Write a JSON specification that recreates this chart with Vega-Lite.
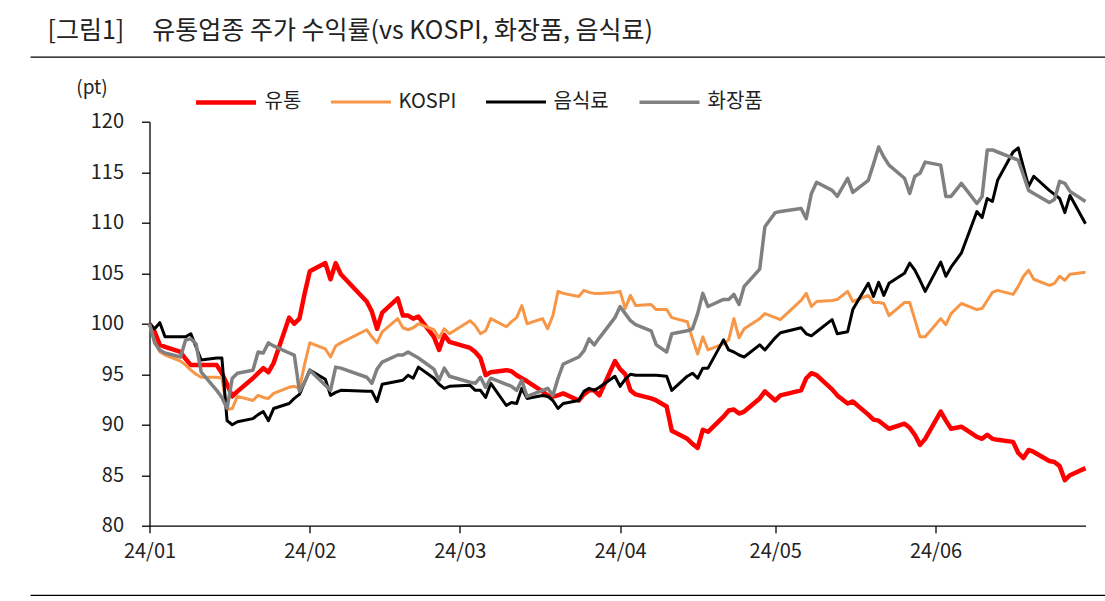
{
"$schema": "https://vega.github.io/schema/vega-lite/v6.json",
"autosize": {"type": "none"},
"width": 936, "height": 404,
"padding": {"left": 149.5, "top": 121.7, "right": 19.5, "bottom": 75.3},
"background": "white",
"title": {"text": "[그림1]\u00a0\u00a0\u00a0\u00a0\u00a0유통업종 주가 수익률(vs KOSPI, 화장품, 음식료)", "anchor": "start", "frame": "group", "fontSize": 25, "font": "Noto Sans CJK KR", "fontWeight": "normal", "color": "#222222", "dx": -102, "offset": 12},
"config": {"view": {"stroke": null}, "font": "Noto Sans CJK KR"},
"layer": [
{"data": {"values": [{}]}, "mark": {"type": "rule", "clip": false, "color": "#000000", "strokeWidth": 1.3},
 "encoding": {"y": {"datum": 126.4, "type": "quantitative"}, "x": {"datum": {"year": 2023, "month": 12, "date": 10, "utc": true}, "type": "temporal"}, "x2": {"datum": {"year": 2024, "month": 7, "date": 6, "utc": true}}}},
{"data": {"values": [{}]}, "mark": {"type": "rule", "clip": false, "color": "#000000", "strokeWidth": 1.3},
 "encoding": {"y": {"datum": 73.1, "type": "quantitative"}, "x": {"datum": {"year": 2023, "month": 12, "date": 10, "utc": true}, "type": "temporal"}, "x2": {"datum": {"year": 2024, "month": 7, "date": 6, "utc": true}}}},
{"data": {"values": [
{"d":"2024-01-02","s":"유통","v":100},{"d":"2024-01-03","s":"유통","v":99.2},{"d":"2024-01-04","s":"유통","v":97.9},{"d":"2024-01-05","s":"유통","v":97.7},{"d":"2024-01-08","s":"유통","v":97.2},{"d":"2024-01-09","s":"유통","v":96.5},{"d":"2024-01-10","s":"유통","v":95.9},{"d":"2024-01-11","s":"유통","v":95.9},{"d":"2024-01-12","s":"유통","v":95.9},{"d":"2024-01-15","s":"유통","v":95.9},{"d":"2024-01-16","s":"유통","v":95.1},{"d":"2024-01-17","s":"유통","v":94.0},{"d":"2024-01-18","s":"유통","v":92.8},{"d":"2024-01-19","s":"유통","v":93.3},{"d":"2024-01-22","s":"유통","v":94.6},{"d":"2024-01-23","s":"유통","v":95.1},{"d":"2024-01-24","s":"유통","v":95.6},{"d":"2024-01-25","s":"유통","v":95.2},{"d":"2024-01-26","s":"유통","v":96.1},{"d":"2024-01-29","s":"유통","v":100.6},{"d":"2024-01-30","s":"유통","v":100.0},{"d":"2024-01-31","s":"유통","v":100.5},
{"d":"2024-02-01","s":"유통","v":103.0},{"d":"2024-02-02","s":"유통","v":105.2},{"d":"2024-02-05","s":"유통","v":106.0},{"d":"2024-02-06","s":"유통","v":104.4},{"d":"2024-02-07","s":"유통","v":106.0},{"d":"2024-02-08","s":"유통","v":104.9},{"d":"2024-02-13","s":"유통","v":102.2},{"d":"2024-02-14","s":"유통","v":101.2},{"d":"2024-02-15","s":"유통","v":99.5},{"d":"2024-02-16","s":"유통","v":101.1},{"d":"2024-02-19","s":"유통","v":102.5},{"d":"2024-02-20","s":"유통","v":100.8},{"d":"2024-02-21","s":"유통","v":100.8},{"d":"2024-02-22","s":"유통","v":100.5},{"d":"2024-02-23","s":"유통","v":100.7},{"d":"2024-02-26","s":"유통","v":98.7},{"d":"2024-02-27","s":"유통","v":97.4},{"d":"2024-02-28","s":"유통","v":98.9},{"d":"2024-02-29","s":"유통","v":98.2},
{"d":"2024-03-04","s":"유통","v":97.6},{"d":"2024-03-05","s":"유통","v":97.2},{"d":"2024-03-06","s":"유통","v":96.6},{"d":"2024-03-07","s":"유통","v":94.9},{"d":"2024-03-08","s":"유통","v":95.2},{"d":"2024-03-11","s":"유통","v":95.4},{"d":"2024-03-12","s":"유통","v":95.3},{"d":"2024-03-13","s":"유통","v":94.9},{"d":"2024-03-14","s":"유통","v":94.6},{"d":"2024-03-15","s":"유통","v":94.3},{"d":"2024-03-18","s":"유통","v":93.3},{"d":"2024-03-19","s":"유통","v":92.9},{"d":"2024-03-20","s":"유통","v":92.8},{"d":"2024-03-21","s":"유통","v":92.9},{"d":"2024-03-22","s":"유통","v":93.1},{"d":"2024-03-25","s":"유통","v":92.4},{"d":"2024-03-26","s":"유통","v":93.0},{"d":"2024-03-27","s":"유통","v":93.4},{"d":"2024-03-28","s":"유통","v":93.4},{"d":"2024-03-29","s":"유통","v":92.9},
{"d":"2024-04-01","s":"유통","v":96.3},{"d":"2024-04-02","s":"유통","v":95.5},{"d":"2024-04-03","s":"유통","v":95.0},{"d":"2024-04-04","s":"유통","v":93.4},{"d":"2024-04-05","s":"유통","v":93.0},{"d":"2024-04-08","s":"유통","v":92.6},{"d":"2024-04-09","s":"유통","v":92.4},{"d":"2024-04-11","s":"유통","v":91.8},{"d":"2024-04-12","s":"유통","v":89.4},{"d":"2024-04-15","s":"유통","v":88.6},{"d":"2024-04-16","s":"유통","v":88.1},{"d":"2024-04-17","s":"유통","v":87.7},{"d":"2024-04-18","s":"유통","v":89.5},{"d":"2024-04-19","s":"유통","v":89.3},{"d":"2024-04-22","s":"유통","v":90.8},{"d":"2024-04-23","s":"유통","v":91.4},{"d":"2024-04-24","s":"유통","v":91.5},{"d":"2024-04-25","s":"유통","v":91.1},{"d":"2024-04-26","s":"유통","v":91.3},{"d":"2024-04-29","s":"유통","v":92.6},{"d":"2024-04-30","s":"유통","v":93.3},
{"d":"2024-05-02","s":"유통","v":92.4},{"d":"2024-05-03","s":"유통","v":92.9},{"d":"2024-05-07","s":"유통","v":93.4},{"d":"2024-05-08","s":"유통","v":94.6},{"d":"2024-05-09","s":"유통","v":95.1},{"d":"2024-05-10","s":"유통","v":94.9},{"d":"2024-05-13","s":"유통","v":93.5},{"d":"2024-05-14","s":"유통","v":92.9},{"d":"2024-05-16","s":"유통","v":92.1},{"d":"2024-05-17","s":"유통","v":92.3},{"d":"2024-05-20","s":"유통","v":91.0},{"d":"2024-05-21","s":"유통","v":90.5},{"d":"2024-05-22","s":"유통","v":90.4},{"d":"2024-05-23","s":"유통","v":90.0},{"d":"2024-05-24","s":"유통","v":89.6},{"d":"2024-05-27","s":"유통","v":90.1},{"d":"2024-05-28","s":"유통","v":89.7},{"d":"2024-05-29","s":"유통","v":89.0},{"d":"2024-05-30","s":"유통","v":88.0},{"d":"2024-05-31","s":"유통","v":88.6},
{"d":"2024-06-03","s":"유통","v":91.3},{"d":"2024-06-04","s":"유통","v":90.4},{"d":"2024-06-05","s":"유통","v":89.6},{"d":"2024-06-07","s":"유통","v":89.8},{"d":"2024-06-10","s":"유통","v":88.8},{"d":"2024-06-11","s":"유통","v":88.6},{"d":"2024-06-12","s":"유통","v":89.0},{"d":"2024-06-13","s":"유통","v":88.6},{"d":"2024-06-14","s":"유통","v":88.5},{"d":"2024-06-17","s":"유통","v":88.3},{"d":"2024-06-18","s":"유통","v":87.2},{"d":"2024-06-19","s":"유통","v":86.7},{"d":"2024-06-20","s":"유통","v":87.5},{"d":"2024-06-21","s":"유통","v":87.3},{"d":"2024-06-24","s":"유통","v":86.4},{"d":"2024-06-25","s":"유통","v":86.3},{"d":"2024-06-26","s":"유통","v":85.9},{"d":"2024-06-27","s":"유통","v":84.5},{"d":"2024-06-28","s":"유통","v":85.0},{"d":"2024-07-01","s":"유통","v":85.7},

{"d":"2024-01-02","s":"KOSPI","v":100},{"d":"2024-01-03","s":"KOSPI","v":98.2},{"d":"2024-01-04","s":"KOSPI","v":97.2},{"d":"2024-01-05","s":"KOSPI","v":96.9},{"d":"2024-01-08","s":"KOSPI","v":96.3},{"d":"2024-01-09","s":"KOSPI","v":95.9},{"d":"2024-01-10","s":"KOSPI","v":95.4},{"d":"2024-01-11","s":"KOSPI","v":95.0},{"d":"2024-01-12","s":"KOSPI","v":94.7},{"d":"2024-01-15","s":"KOSPI","v":94.7},{"d":"2024-01-16","s":"KOSPI","v":94.6},{"d":"2024-01-17","s":"KOSPI","v":91.5},{"d":"2024-01-18","s":"KOSPI","v":91.6},{"d":"2024-01-19","s":"KOSPI","v":92.8},{"d":"2024-01-22","s":"KOSPI","v":92.4},{"d":"2024-01-23","s":"KOSPI","v":92.9},{"d":"2024-01-24","s":"KOSPI","v":92.7},{"d":"2024-01-25","s":"KOSPI","v":92.6},{"d":"2024-01-26","s":"KOSPI","v":93.1},{"d":"2024-01-29","s":"KOSPI","v":93.7},{"d":"2024-01-30","s":"KOSPI","v":93.8},{"d":"2024-01-31","s":"KOSPI","v":93.6},
{"d":"2024-02-01","s":"KOSPI","v":96.0},{"d":"2024-02-02","s":"KOSPI","v":98.1},{"d":"2024-02-05","s":"KOSPI","v":97.5},{"d":"2024-02-06","s":"KOSPI","v":96.7},{"d":"2024-02-07","s":"KOSPI","v":97.8},{"d":"2024-02-08","s":"KOSPI","v":98.1},{"d":"2024-02-13","s":"KOSPI","v":99.4},{"d":"2024-02-14","s":"KOSPI","v":98.7},{"d":"2024-02-15","s":"KOSPI","v":98.1},{"d":"2024-02-16","s":"KOSPI","v":99.2},{"d":"2024-02-19","s":"KOSPI","v":100.5},{"d":"2024-02-20","s":"KOSPI","v":99.6},{"d":"2024-02-21","s":"KOSPI","v":99.4},{"d":"2024-02-22","s":"KOSPI","v":99.6},{"d":"2024-02-23","s":"KOSPI","v":100.0},{"d":"2024-02-26","s":"KOSPI","v":99.4},{"d":"2024-02-27","s":"KOSPI","v":98.6},{"d":"2024-02-28","s":"KOSPI","v":99.5},{"d":"2024-02-29","s":"KOSPI","v":99.0},
{"d":"2024-03-04","s":"KOSPI","v":100.3},{"d":"2024-03-05","s":"KOSPI","v":99.8},{"d":"2024-03-06","s":"KOSPI","v":99.0},{"d":"2024-03-07","s":"KOSPI","v":99.3},{"d":"2024-03-08","s":"KOSPI","v":100.5},{"d":"2024-03-11","s":"KOSPI","v":99.7},{"d":"2024-03-12","s":"KOSPI","v":100.2},{"d":"2024-03-13","s":"KOSPI","v":100.6},{"d":"2024-03-14","s":"KOSPI","v":101.8},{"d":"2024-03-15","s":"KOSPI","v":100.0},{"d":"2024-03-18","s":"KOSPI","v":100.5},{"d":"2024-03-19","s":"KOSPI","v":99.5},{"d":"2024-03-20","s":"KOSPI","v":100.8},{"d":"2024-03-21","s":"KOSPI","v":103.2},{"d":"2024-03-22","s":"KOSPI","v":103.0},{"d":"2024-03-25","s":"KOSPI","v":102.7},{"d":"2024-03-26","s":"KOSPI","v":103.3},{"d":"2024-03-27","s":"KOSPI","v":103.1},{"d":"2024-03-28","s":"KOSPI","v":103.0},{"d":"2024-03-29","s":"KOSPI","v":103.0},
{"d":"2024-04-01","s":"KOSPI","v":103.1},{"d":"2024-04-02","s":"KOSPI","v":103.2},{"d":"2024-04-03","s":"KOSPI","v":101.5},{"d":"2024-04-04","s":"KOSPI","v":102.8},{"d":"2024-04-05","s":"KOSPI","v":101.8},{"d":"2024-04-08","s":"KOSPI","v":101.9},{"d":"2024-04-09","s":"KOSPI","v":101.4},{"d":"2024-04-11","s":"KOSPI","v":101.4},{"d":"2024-04-12","s":"KOSPI","v":100.6},{"d":"2024-04-15","s":"KOSPI","v":100.2},{"d":"2024-04-16","s":"KOSPI","v":98.5},{"d":"2024-04-17","s":"KOSPI","v":97.0},{"d":"2024-04-18","s":"KOSPI","v":98.7},{"d":"2024-04-19","s":"KOSPI","v":97.4},{"d":"2024-04-22","s":"KOSPI","v":98.0},{"d":"2024-04-23","s":"KOSPI","v":98.4},{"d":"2024-04-24","s":"KOSPI","v":100.5},{"d":"2024-04-25","s":"KOSPI","v":98.6},{"d":"2024-04-26","s":"KOSPI","v":99.5},{"d":"2024-04-29","s":"KOSPI","v":100.5},{"d":"2024-04-30","s":"KOSPI","v":101.0},
{"d":"2024-05-02","s":"KOSPI","v":100.6},{"d":"2024-05-03","s":"KOSPI","v":100.4},{"d":"2024-05-07","s":"KOSPI","v":102.3},{"d":"2024-05-08","s":"KOSPI","v":103.0},{"d":"2024-05-09","s":"KOSPI","v":101.7},{"d":"2024-05-10","s":"KOSPI","v":102.2},{"d":"2024-05-13","s":"KOSPI","v":102.3},{"d":"2024-05-14","s":"KOSPI","v":102.4},{"d":"2024-05-16","s":"KOSPI","v":103.2},{"d":"2024-05-17","s":"KOSPI","v":102.2},{"d":"2024-05-20","s":"KOSPI","v":102.8},{"d":"2024-05-21","s":"KOSPI","v":102.1},{"d":"2024-05-22","s":"KOSPI","v":102.1},{"d":"2024-05-23","s":"KOSPI","v":102.0},{"d":"2024-05-24","s":"KOSPI","v":100.8},{"d":"2024-05-27","s":"KOSPI","v":102.1},{"d":"2024-05-28","s":"KOSPI","v":102.1},{"d":"2024-05-29","s":"KOSPI","v":100.4},{"d":"2024-05-30","s":"KOSPI","v":98.7},{"d":"2024-05-31","s":"KOSPI","v":98.7},
{"d":"2024-06-03","s":"KOSPI","v":100.5},{"d":"2024-06-04","s":"KOSPI","v":99.9},{"d":"2024-06-05","s":"KOSPI","v":101.0},{"d":"2024-06-07","s":"KOSPI","v":102.0},{"d":"2024-06-10","s":"KOSPI","v":101.4},{"d":"2024-06-11","s":"KOSPI","v":101.5},{"d":"2024-06-12","s":"KOSPI","v":102.3},{"d":"2024-06-13","s":"KOSPI","v":103.1},{"d":"2024-06-14","s":"KOSPI","v":103.3},{"d":"2024-06-17","s":"KOSPI","v":102.9},{"d":"2024-06-18","s":"KOSPI","v":103.7},{"d":"2024-06-19","s":"KOSPI","v":104.7},{"d":"2024-06-20","s":"KOSPI","v":105.3},{"d":"2024-06-21","s":"KOSPI","v":104.4},{"d":"2024-06-24","s":"KOSPI","v":103.8},{"d":"2024-06-25","s":"KOSPI","v":104.0},{"d":"2024-06-26","s":"KOSPI","v":104.7},{"d":"2024-06-27","s":"KOSPI","v":104.3},{"d":"2024-06-28","s":"KOSPI","v":104.9},{"d":"2024-07-01","s":"KOSPI","v":105.1},

{"d":"2024-01-02","s":"음식료","v":100},{"d":"2024-01-03","s":"음식료","v":99.5},{"d":"2024-01-04","s":"음식료","v":100.1},{"d":"2024-01-05","s":"음식료","v":98.7},{"d":"2024-01-08","s":"음식료","v":98.7},{"d":"2024-01-09","s":"음식료","v":98.7},{"d":"2024-01-10","s":"음식료","v":99.0},{"d":"2024-01-11","s":"음식료","v":97.7},{"d":"2024-01-12","s":"음식료","v":96.4},{"d":"2024-01-15","s":"음식료","v":96.6},{"d":"2024-01-16","s":"음식료","v":96.6},{"d":"2024-01-17","s":"음식료","v":90.4},{"d":"2024-01-18","s":"음식료","v":90.0},{"d":"2024-01-19","s":"음식료","v":90.3},{"d":"2024-01-22","s":"음식료","v":90.6},{"d":"2024-01-23","s":"음식료","v":91.0},{"d":"2024-01-24","s":"음식료","v":91.3},{"d":"2024-01-25","s":"음식료","v":90.4},{"d":"2024-01-26","s":"음식료","v":91.6},{"d":"2024-01-29","s":"음식료","v":92.1},{"d":"2024-01-30","s":"음식료","v":92.6},{"d":"2024-01-31","s":"음식료","v":93.0},
{"d":"2024-02-01","s":"음식료","v":94.2},{"d":"2024-02-02","s":"음식료","v":95.4},{"d":"2024-02-05","s":"음식료","v":94.5},{"d":"2024-02-06","s":"음식료","v":92.9},{"d":"2024-02-07","s":"음식료","v":93.2},{"d":"2024-02-08","s":"음식료","v":93.4},{"d":"2024-02-13","s":"음식료","v":93.3},{"d":"2024-02-14","s":"음식료","v":93.3},{"d":"2024-02-15","s":"음식료","v":92.3},{"d":"2024-02-16","s":"음식료","v":94.0},{"d":"2024-02-19","s":"음식료","v":94.3},{"d":"2024-02-20","s":"음식료","v":94.4},{"d":"2024-02-21","s":"음식료","v":94.9},{"d":"2024-02-22","s":"음식료","v":94.6},{"d":"2024-02-23","s":"음식료","v":95.7},{"d":"2024-02-26","s":"음식료","v":94.6},{"d":"2024-02-27","s":"음식료","v":94.0},{"d":"2024-02-28","s":"음식료","v":93.6},{"d":"2024-02-29","s":"음식료","v":93.8},
{"d":"2024-03-04","s":"음식료","v":93.9},{"d":"2024-03-05","s":"음식료","v":93.4},{"d":"2024-03-06","s":"음식료","v":93.4},{"d":"2024-03-07","s":"음식료","v":92.7},{"d":"2024-03-08","s":"음식료","v":94.1},{"d":"2024-03-11","s":"음식료","v":91.9},{"d":"2024-03-12","s":"음식료","v":92.2},{"d":"2024-03-13","s":"음식료","v":92.1},{"d":"2024-03-14","s":"음식료","v":93.6},{"d":"2024-03-15","s":"음식료","v":92.6},{"d":"2024-03-18","s":"음식료","v":92.9},{"d":"2024-03-19","s":"음식료","v":92.8},{"d":"2024-03-20","s":"음식료","v":92.4},{"d":"2024-03-21","s":"음식료","v":91.6},{"d":"2024-03-22","s":"음식료","v":92.1},{"d":"2024-03-25","s":"음식료","v":92.4},{"d":"2024-03-26","s":"음식료","v":93.3},{"d":"2024-03-27","s":"음식료","v":93.6},{"d":"2024-03-28","s":"음식료","v":93.4},{"d":"2024-03-29","s":"음식료","v":93.7},
{"d":"2024-04-01","s":"음식료","v":94.8},{"d":"2024-04-02","s":"음식료","v":93.8},{"d":"2024-04-03","s":"음식료","v":94.5},{"d":"2024-04-04","s":"음식료","v":95.0},{"d":"2024-04-05","s":"음식료","v":94.9},{"d":"2024-04-08","s":"음식료","v":94.9},{"d":"2024-04-09","s":"음식료","v":94.9},{"d":"2024-04-11","s":"음식료","v":94.8},{"d":"2024-04-12","s":"음식료","v":93.4},{"d":"2024-04-15","s":"음식료","v":94.8},{"d":"2024-04-16","s":"음식료","v":95.1},{"d":"2024-04-17","s":"음식료","v":94.6},{"d":"2024-04-18","s":"음식료","v":95.6},{"d":"2024-04-19","s":"음식료","v":95.6},{"d":"2024-04-22","s":"음식료","v":98.4},{"d":"2024-04-23","s":"음식료","v":97.4},{"d":"2024-04-24","s":"음식료","v":97.2},{"d":"2024-04-25","s":"음식료","v":96.9},{"d":"2024-04-26","s":"음식료","v":96.7},{"d":"2024-04-29","s":"음식료","v":97.9},{"d":"2024-04-30","s":"음식료","v":97.4},
{"d":"2024-05-02","s":"음식료","v":98.6},{"d":"2024-05-03","s":"음식료","v":99.1},{"d":"2024-05-07","s":"음식료","v":99.6},{"d":"2024-05-08","s":"음식료","v":99.0},{"d":"2024-05-09","s":"음식료","v":98.8},{"d":"2024-05-10","s":"음식료","v":99.2},{"d":"2024-05-13","s":"음식료","v":100.4},{"d":"2024-05-14","s":"음식료","v":99.0},{"d":"2024-05-16","s":"음식료","v":99.2},{"d":"2024-05-17","s":"음식료","v":101.4},{"d":"2024-05-20","s":"음식료","v":104.0},{"d":"2024-05-21","s":"음식료","v":102.7},{"d":"2024-05-22","s":"음식료","v":104.1},{"d":"2024-05-23","s":"음식료","v":102.8},{"d":"2024-05-24","s":"음식료","v":104.0},{"d":"2024-05-27","s":"음식료","v":105.0},{"d":"2024-05-28","s":"음식료","v":106.0},{"d":"2024-05-29","s":"음식료","v":105.3},{"d":"2024-05-30","s":"음식료","v":104.3},{"d":"2024-05-31","s":"음식료","v":103.2},
{"d":"2024-06-03","s":"음식료","v":106.1},{"d":"2024-06-04","s":"음식료","v":104.7},{"d":"2024-06-05","s":"음식료","v":105.6},{"d":"2024-06-07","s":"음식료","v":107.0},{"d":"2024-06-10","s":"음식료","v":111.1},{"d":"2024-06-11","s":"음식료","v":110.5},{"d":"2024-06-12","s":"음식료","v":112.4},{"d":"2024-06-13","s":"음식료","v":112.1},{"d":"2024-06-14","s":"음식료","v":114.2},{"d":"2024-06-17","s":"음식료","v":117.0},{"d":"2024-06-18","s":"음식료","v":117.4},{"d":"2024-06-19","s":"음식료","v":115.5},{"d":"2024-06-20","s":"음식료","v":113.6},{"d":"2024-06-21","s":"음식료","v":114.6},{"d":"2024-06-24","s":"음식료","v":113.2},{"d":"2024-06-25","s":"음식료","v":112.8},{"d":"2024-06-26","s":"음식료","v":112.4},{"d":"2024-06-27","s":"음식료","v":111.0},{"d":"2024-06-28","s":"음식료","v":112.7},{"d":"2024-07-01","s":"음식료","v":109.9},

{"d":"2024-01-02","s":"화장품","v":100},{"d":"2024-01-03","s":"화장품","v":98.1},{"d":"2024-01-04","s":"화장품","v":97.4},{"d":"2024-01-05","s":"화장품","v":97.1},{"d":"2024-01-08","s":"화장품","v":96.7},{"d":"2024-01-09","s":"화장품","v":98.4},{"d":"2024-01-10","s":"화장품","v":98.5},{"d":"2024-01-11","s":"화장품","v":98.0},{"d":"2024-01-12","s":"화장품","v":95.2},{"d":"2024-01-15","s":"화장품","v":93.4},{"d":"2024-01-16","s":"화장품","v":92.7},{"d":"2024-01-17","s":"화장품","v":91.6},{"d":"2024-01-18","s":"화장품","v":94.6},{"d":"2024-01-19","s":"화장품","v":95.1},{"d":"2024-01-22","s":"화장품","v":95.4},{"d":"2024-01-23","s":"화장품","v":97.2},{"d":"2024-01-24","s":"화장품","v":97.1},{"d":"2024-01-25","s":"화장품","v":98.1},{"d":"2024-01-26","s":"화장품","v":97.8},{"d":"2024-01-29","s":"화장품","v":97.1},{"d":"2024-01-30","s":"화장품","v":96.9},{"d":"2024-01-31","s":"화장품","v":93.3},
{"d":"2024-02-01","s":"화장품","v":94.2},{"d":"2024-02-02","s":"화장품","v":95.4},{"d":"2024-02-05","s":"화장품","v":93.9},{"d":"2024-02-06","s":"화장품","v":93.4},{"d":"2024-02-07","s":"화장품","v":95.7},{"d":"2024-02-08","s":"화장품","v":95.6},{"d":"2024-02-13","s":"화장품","v":94.7},{"d":"2024-02-14","s":"화장품","v":94.1},{"d":"2024-02-15","s":"화장품","v":95.5},{"d":"2024-02-16","s":"화장품","v":96.2},{"d":"2024-02-19","s":"화장품","v":96.9},{"d":"2024-02-20","s":"화장품","v":96.9},{"d":"2024-02-21","s":"화장품","v":97.2},{"d":"2024-02-22","s":"화장품","v":96.9},{"d":"2024-02-23","s":"화장품","v":96.6},{"d":"2024-02-26","s":"화장품","v":95.5},{"d":"2024-02-27","s":"화장품","v":94.4},{"d":"2024-02-28","s":"화장품","v":95.6},{"d":"2024-02-29","s":"화장품","v":94.8},
{"d":"2024-03-04","s":"화장품","v":94.2},{"d":"2024-03-05","s":"화장품","v":94.1},{"d":"2024-03-06","s":"화장품","v":94.7},{"d":"2024-03-07","s":"화장품","v":93.7},{"d":"2024-03-08","s":"화장품","v":94.6},{"d":"2024-03-11","s":"화장품","v":94.0},{"d":"2024-03-12","s":"화장품","v":93.8},{"d":"2024-03-13","s":"화장품","v":93.4},{"d":"2024-03-14","s":"화장품","v":94.4},{"d":"2024-03-15","s":"화장품","v":92.8},{"d":"2024-03-18","s":"화장품","v":93.4},{"d":"2024-03-19","s":"화장품","v":93.6},{"d":"2024-03-20","s":"화장품","v":92.9},{"d":"2024-03-21","s":"화장품","v":94.6},{"d":"2024-03-22","s":"화장품","v":96.0},{"d":"2024-03-25","s":"화장품","v":96.7},{"d":"2024-03-26","s":"화장품","v":97.3},{"d":"2024-03-27","s":"화장품","v":98.5},{"d":"2024-03-28","s":"화장품","v":97.9},{"d":"2024-03-29","s":"화장품","v":98.6},
{"d":"2024-04-01","s":"화장품","v":100.6},{"d":"2024-04-02","s":"화장품","v":101.7},{"d":"2024-04-03","s":"화장품","v":101.0},{"d":"2024-04-04","s":"화장품","v":100.3},{"d":"2024-04-05","s":"화장품","v":99.9},{"d":"2024-04-08","s":"화장품","v":99.3},{"d":"2024-04-09","s":"화장품","v":97.9},{"d":"2024-04-11","s":"화장품","v":97.2},{"d":"2024-04-12","s":"화장품","v":99.0},{"d":"2024-04-15","s":"화장품","v":99.3},{"d":"2024-04-16","s":"화장품","v":99.5},{"d":"2024-04-17","s":"화장품","v":101.0},{"d":"2024-04-18","s":"화장품","v":103.0},{"d":"2024-04-19","s":"화장품","v":101.7},{"d":"2024-04-22","s":"화장품","v":102.4},{"d":"2024-04-23","s":"화장품","v":102.4},{"d":"2024-04-24","s":"화장품","v":102.9},{"d":"2024-04-25","s":"화장품","v":101.9},{"d":"2024-04-26","s":"화장품","v":103.7},{"d":"2024-04-29","s":"화장품","v":105.4},{"d":"2024-04-30","s":"화장품","v":109.6},
{"d":"2024-05-02","s":"화장품","v":111.0},{"d":"2024-05-03","s":"화장품","v":111.1},{"d":"2024-05-07","s":"화장품","v":111.4},{"d":"2024-05-08","s":"화장품","v":110.4},{"d":"2024-05-09","s":"화장품","v":112.9},{"d":"2024-05-10","s":"화장품","v":114.0},{"d":"2024-05-13","s":"화장품","v":113.2},{"d":"2024-05-14","s":"화장품","v":112.6},{"d":"2024-05-16","s":"화장품","v":114.4},{"d":"2024-05-17","s":"화장품","v":113.0},{"d":"2024-05-20","s":"화장품","v":114.2},{"d":"2024-05-21","s":"화장품","v":115.8},{"d":"2024-05-22","s":"화장품","v":117.5},{"d":"2024-05-23","s":"화장품","v":116.5},{"d":"2024-05-24","s":"화장품","v":115.7},{"d":"2024-05-27","s":"화장품","v":114.4},{"d":"2024-05-28","s":"화장품","v":112.9},{"d":"2024-05-29","s":"화장품","v":114.6},{"d":"2024-05-30","s":"화장품","v":114.9},{"d":"2024-05-31","s":"화장품","v":116.0},
{"d":"2024-06-03","s":"화장품","v":115.7},{"d":"2024-06-04","s":"화장품","v":112.6},{"d":"2024-06-05","s":"화장품","v":112.6},{"d":"2024-06-07","s":"화장품","v":113.9},{"d":"2024-06-10","s":"화장품","v":111.9},{"d":"2024-06-11","s":"화장품","v":112.6},{"d":"2024-06-12","s":"화장품","v":117.2},{"d":"2024-06-13","s":"화장품","v":117.2},{"d":"2024-06-14","s":"화장품","v":117.0},{"d":"2024-06-17","s":"화장품","v":116.4},{"d":"2024-06-18","s":"화장품","v":116.2},{"d":"2024-06-19","s":"화장품","v":114.7},{"d":"2024-06-20","s":"화장품","v":113.2},{"d":"2024-06-21","s":"화장품","v":112.9},{"d":"2024-06-24","s":"화장품","v":112.0},{"d":"2024-06-25","s":"화장품","v":112.3},{"d":"2024-06-26","s":"화장품","v":114.1},{"d":"2024-06-27","s":"화장품","v":113.9},{"d":"2024-06-28","s":"화장품","v":113.1},{"d":"2024-07-01","s":"화장품","v":112.1}
]},
 "mark": {"type": "line", "strokeJoin": "round"},
 "encoding": {
  "x": {"field": "d", "type": "temporal",
        "scale": {"type": "utc", "domain": [{"year": 2024, "month": 1, "date": 2, "utc": true}, {"year": 2024, "month": 7, "date": 1, "utc": true}]},
        "axis": {"values": [{"year": 2024, "month": 1, "date": 2, "utc": true}, {"year": 2024, "month": 2, "date": 2, "utc": true}, {"year": 2024, "month": 3, "date": 2, "utc": true}, {"year": 2024, "month": 4, "date": 2, "utc": true}, {"year": 2024, "month": 5, "date": 2, "utc": true}, {"year": 2024, "month": 6, "date": 2, "utc": true}],
                 "format": "%y/%m", "title": null, "grid": false, "labelFlush": false, "domainColor": "#000000", "domainWidth": 1.3, "tickColor": "#000000", "tickWidth": 1.3, "tickSize": 7, "labelPadding": 9, "labelFontSize": 20, "labelColor": "#222222", "labelFont": "Noto Sans CJK KR"}},
  "y": {"field": "v", "type": "quantitative",
        "scale": {"domain": [80, 120], "nice": false, "zero": false},
        "axis": {"values": [80, 85, 90, 95, 100, 105, 110, 115, 120], "title": "(pt)", "titleAngle": 0, "titleX": -58, "titleY": -34, "titleAlign": "center", "titleBaseline": "middle", "titleFontSize": 19, "titleFontWeight": "normal", "titleFont": "Noto Sans CJK KR", "titleColor": "#222222",
                 "grid": false, "domainColor": "#000000", "domainWidth": 1.3, "tickColor": "#000000", "tickWidth": 1.3, "tickSize": 8, "labelPadding": 18, "labelFontSize": 20, "labelColor": "#222222", "labelFont": "Noto Sans CJK KR"}},
  "color": {"field": "s", "type": "nominal",
        "scale": {"domain": ["유통", "KOSPI", "음식료", "화장품"], "range": ["#FF0000", "#F79646", "#000000", "#808080"]},
        "legend": {"orient": "none", "legendX": 44, "legendY": -52, "direction": "horizontal", "title": null, "symbolType": "stroke", "symbolSize": 3600, "symbolStrokeWidth": 4.5, "labelFontSize": 20, "labelFont": "Noto Sans CJK KR", "labelColor": "#222222", "columnPadding": 23, "labelOffset": 6, "padding": 0}},
  "strokeWidth": {"field": "s", "type": "nominal",
        "scale": {"type": "ordinal", "domain": ["유통", "KOSPI", "음식료", "화장품"], "range": [4.5, 3, 3, 3.5]},
        "legend": null}
 }}
]
}
